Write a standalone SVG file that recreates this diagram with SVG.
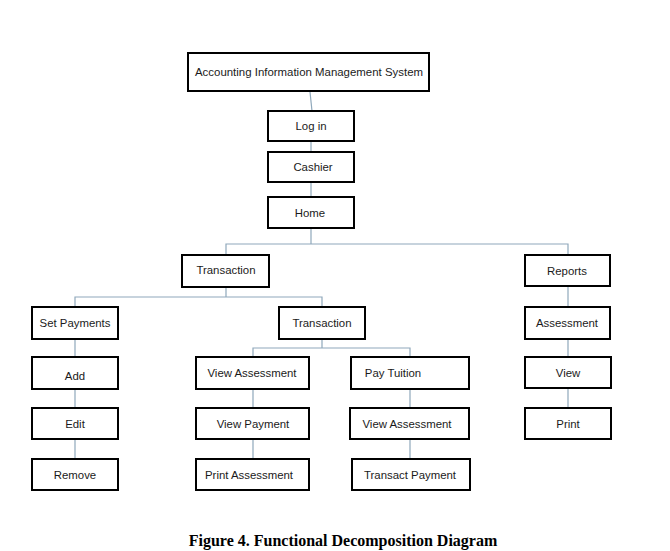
<svg xmlns="http://www.w3.org/2000/svg" width="670" height="551" viewBox="0 0 670 551">
<style>
.box{fill:#fff;stroke:#000;stroke-width:2}
.lbl{font-family:"Liberation Sans",Arial,sans-serif;font-size:11.4px;fill:#1a1a1a;text-anchor:middle}
.con{fill:none;stroke:#8fa8bb;stroke-width:1.2}
.cap{font-family:"Liberation Serif","Times New Roman",serif;font-size:16px;font-weight:bold;fill:#000;text-anchor:middle}
</style>
<rect width="670" height="551" fill="#fff"/>
<g id="connectors">
<path class="con" d="M310 92 L312 111"/>
<path class="con" d="M311 141 V152"/>
<path class="con" d="M311 182 V197"/>
<path class="con" d="M311 228 V244 M226 255 V244 H568 V255"/>
<path class="con" d="M226 287 V297 M75 307 V297 H322 V307"/>
<path class="con" d="M568 286 V307"/>
<path class="con" d="M75 339 V357 M75 389 V408 M75 439 V459"/>
<path class="con" d="M322 339 V348 M253 357 V348 H410 V357"/>
<path class="con" d="M253 389 V408 M253 439 V459"/>
<path class="con" d="M410 389 V408 M410 439 V459"/>
<path class="con" d="M568 339 V357 M568 388 V408"/>
</g>
<g id="n-aims"><rect class="box" x="188" y="53" width="241" height="38"/><text class="lbl" x="309" y="76" textLength="228" lengthAdjust="spacingAndGlyphs">Accounting Information Management System</text></g>
<g id="n-login"><rect class="box" x="268" y="111" width="86" height="30"/><text class="lbl" x="311" y="130">Log in</text></g>
<g id="n-cashier"><rect class="box" x="268" y="152" width="86" height="30"/><text class="lbl" x="313" y="171">Cashier</text></g>
<g id="n-home"><rect class="box" x="268" y="197" width="86" height="31"/><text class="lbl" x="310" y="217">Home</text></g>
<g id="n-transaction1"><rect class="box" x="182" y="255" width="87" height="32"/><text class="lbl" x="226" y="274">Transaction</text></g>
<g id="n-reports"><rect class="box" x="525" y="255" width="85" height="31"/><text class="lbl" x="567" y="275">Reports</text></g>
<g id="n-setpayments"><rect class="box" x="32" y="307" width="86" height="32"/><text class="lbl" x="75" y="327">Set Payments</text></g>
<g id="n-transaction2"><rect class="box" x="279" y="307" width="86" height="32"/><text class="lbl" x="322" y="327">Transaction</text></g>
<g id="n-assessment"><rect class="box" x="525" y="307" width="85" height="32"/><text class="lbl" x="567" y="327">Assessment</text></g>
<g id="n-add"><rect class="box" x="32" y="357" width="86" height="32"/><text class="lbl" x="75" y="380">Add</text></g>
<g id="n-edit"><rect class="box" x="32" y="408" width="86" height="31"/><text class="lbl" x="75" y="428">Edit</text></g>
<g id="n-remove"><rect class="box" x="32" y="459" width="86" height="31"/><text class="lbl" x="75" y="479">Remove</text></g>
<g id="n-viewassessment1"><rect class="box" x="196" y="357" width="113" height="32"/><text class="lbl" x="252" y="377">View Assessment</text></g>
<g id="n-viewpayment"><rect class="box" x="196" y="408" width="113" height="31"/><text class="lbl" x="253" y="428">View Payment</text></g>
<g id="n-printassessment"><rect class="box" x="196" y="459" width="113" height="31"/><text class="lbl" x="249" y="479">Print Assessment</text></g>
<g id="n-paytuition"><rect class="box" x="351" y="357" width="118" height="32"/><text class="lbl" x="393" y="377">Pay Tuition</text></g>
<g id="n-viewassessment2"><rect class="box" x="350" y="408" width="119" height="31"/><text class="lbl" x="407" y="428">View Assessment</text></g>
<g id="n-transactpayment"><rect class="box" x="352" y="459" width="118" height="31"/><text class="lbl" x="410" y="479">Transact Payment</text></g>
<g id="n-view"><rect class="box" x="525" y="357" width="86" height="31"/><text class="lbl" x="568" y="377">View</text></g>
<g id="n-print"><rect class="box" x="525" y="408" width="86" height="31"/><text class="lbl" x="568" y="428">Print</text></g>
<text class="cap" x="343" y="546">Figure 4. Functional Decomposition Diagram</text>
</svg>
